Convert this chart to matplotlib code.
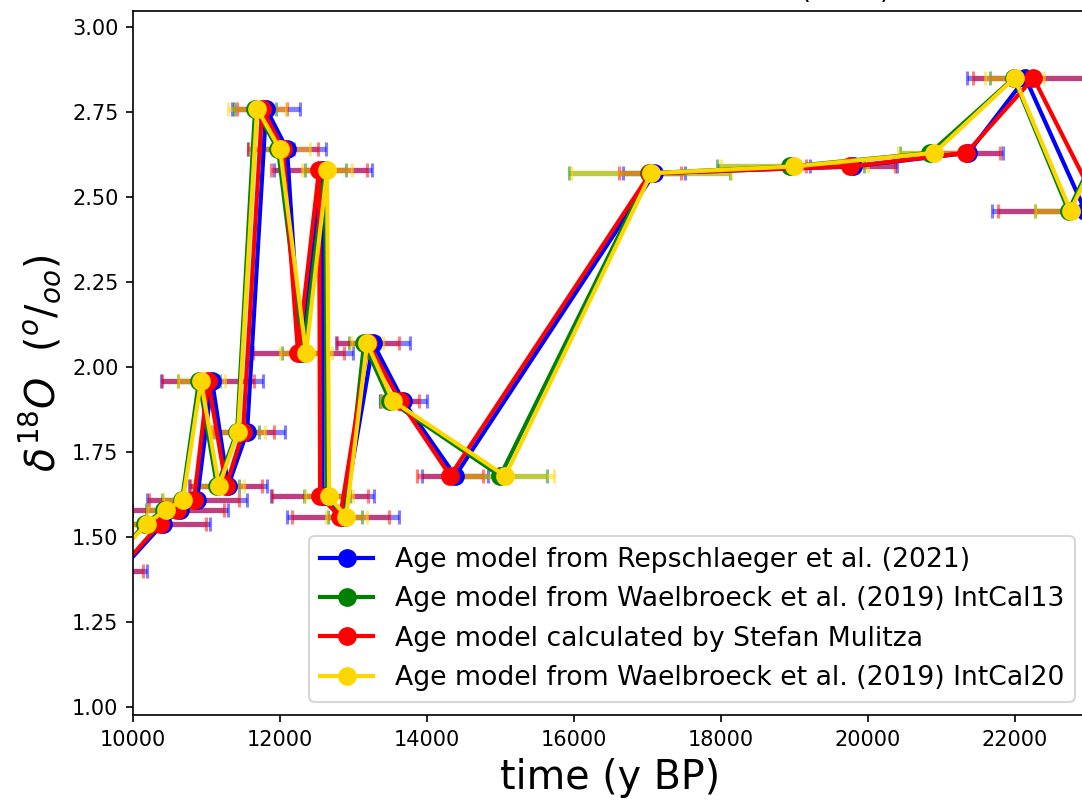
import numpy as np
import matplotlib
matplotlib.use('Agg')
import matplotlib.pyplot as plt

# d18O values (same for every age model), one per sample depth
d18o = [1.40, 1.54, 1.58, 1.61, 1.96, 1.65, 1.81, 2.76, 2.64, 2.04, 2.58,
        1.62, 1.56, 2.07, 1.90, 1.68, 2.57, 2.59, 2.63, 2.85, 2.46, 2.75]

# ages (y BP) for each age model
age_rep = [9820, 10409, 10640, 10872, 11076, 11294, 11553, 11812, 12097, 12275, 12585,
           12580, 12860, 13269, 13677, 14386, 17096, 19807, 21373, 22149, 22960, 23800]
age_w13 = [9620, 10163, 10422, 10667, 10899, 11144, 11417, 11662, 11975, 12315, 12615,
           12642, 12888, 13146, 13500, 14999, 17030, 18949, 20855, 21990, 22735, 23380]
age_mul = [9800, 10368, 10599, 10831, 11022, 11267, 11498, 11757, 12043, 12247, 12533,
           12547, 12819, 13201, 13637, 14318, 17042, 19766, 21346, 22258, 23170, 23900]
age_w20 = [9590, 10191, 10449, 10681, 10926, 11171, 11430, 11689, 12002, 12356, 12642,
           12670, 12901, 13187, 13541, 15067, 17055, 19003, 20910, 22000, 22762, 23400]

# age uncertainties (y)
err_rep = [370, 640, 650, 680, 700, 530, 520, 460, 530, 720, 670,
           700, 760, 500, 320, 450, 420, 590, 470, 790, 1270, 300]
err_w13 = [250, 200, 250, 270, 280, 300, 300, 290, 220, 290, 280,
           310, 230, 200, 140, 640, 1100, 1000, 420, 330, 460, 200]
err_mul = [336, 620, 640, 610, 630, 490, 420, 340, 480, 620, 650,
           650, 660, 420, 250, 450, 420, 610, 460, 820, 1390, 300]
err_w20 = [250, 200, 260, 270, 320, 340, 370, 400, 410, 350, 340,
           330, 280, 220, 160, 670, 1090, 1000, 500, 400, 490, 200]

labels = ['Age model from Repschlaeger et al. (2021)',
          'Age model from Waelbroeck et al. (2019) IntCal13',
          'Age model calculated by Stefan Mulitza',
          'Age model from Waelbroeck et al. (2019) IntCal20']
colors = ['blue', 'green', 'red', 'gold']
ages = [age_rep, age_w13, age_mul, age_w20]
errs = [err_rep, err_w13, err_mul, err_w20]

fig = plt.figure(figsize=(1082/150, 807/150), dpi=150)
ax = fig.add_axes([133/1082, 1 - 715/807, (1088 - 133)/1082, (715 - 11)/807])

# error bars first, lines on top
for a, e, c in zip(ages, errs, colors):
    ax.errorbar(a, d18o, xerr=e, fmt='none', ecolor=c, alpha=0.5,
                elinewidth=2.5, capsize=3.5, capthick=1.5)
for a, c, lab in zip(ages, colors, labels):
    ax.plot(a, d18o, 'o-', color=c, lw=2, ms=8, label=lab)

ax.set_xlim(10000, 23000)
ax.set_ylim(0.977, 3.047)
ax.set_yticks(np.arange(1.0, 3.01, 0.25))
ax.set_xlabel('time (y BP)', fontsize=19)
ax.set_ylabel(r'$\delta^{18}O\ \ (^{o}/_{oo})$', fontsize=19)
# title sits mostly above the visible area, only the descenders show
ax.set_title('Benthic δ18O record of all models (2021)', fontsize=13, pad=6.3)
ax.legend(loc='lower right', fontsize=12.8)

fig.savefig('out.png', dpi=150)
